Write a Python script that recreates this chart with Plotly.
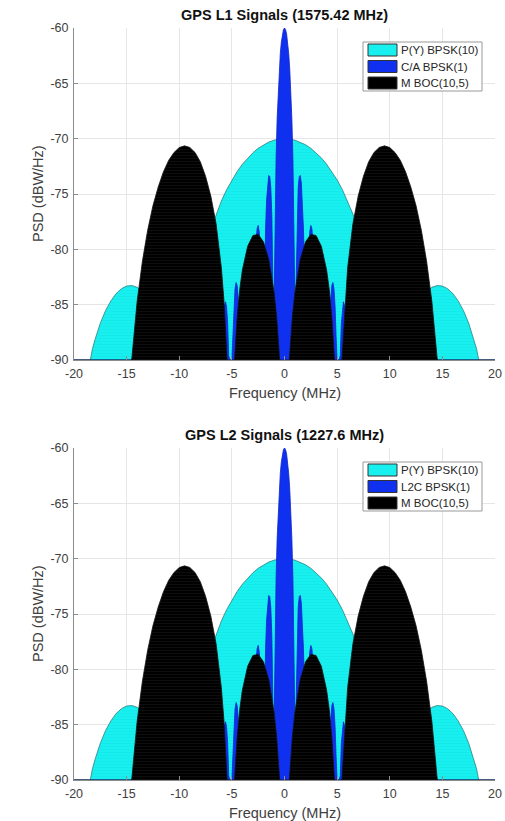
import plotly.graph_objects as go

# ---------------- data (positive-frequency half, spectra are symmetric) ----------------
# P(Y) BPSK(10)
PY_F = [0, 0.5, 1, 1.5, 2, 2.5, 3, 3.5, 4, 4.5, 5, 5.5, 6, 6.5, 7, 7.5, 8, 8.5, 9, 9.5,
        10, 11, 11.5, 12, 12.5, 13, 13.5, 14, 14.5, 15, 15.5, 16, 16.5, 17, 17.5, 18,
        18.25, 18.45, 20]
PY_PSD = [-70.0, -70.03, -70.14, -70.31, -70.55, -70.87, -71.27, -71.74, -72.31, -72.97,
          -73.73, -74.61, -75.64, -76.81, -78.19, -79.81, -81.79, -84.23, -87.47, -90,
          -90, -90, -89.36, -87.05, -85.53, -84.46, -83.83, -83.43, -83.27, -83.32,
          -83.56, -84.00, -84.66, -85.53, -86.68, -88.14, -89.0, -90, -90]

# C/A (L1) or L2C (L2) BPSK(1)
CA_F = [0, 0.1, 0.2, 0.3, 0.4, 0.5, 0.6, 0.7, 0.8, 0.9, 0.95, 1.0, 1.05, 1.1, 1.2, 1.3,
        1.4, 1.5, 1.6, 1.7, 1.8, 1.85, 1.9, 1.95, 2.0, 2.1, 2.15, 2.2, 2.3, 2.4, 2.5,
        2.6, 2.7, 2.8, 2.9, 3.0, 3.1, 3.2, 3.3, 3.4, 3.5, 3.6, 3.7, 3.8, 3.9, 4.0, 4.2,
        4.3, 4.4, 4.5, 4.6, 4.7, 4.8, 4.9, 5.0, 5.2, 5.3, 5.4, 5.5, 5.6, 5.7, 5.8, 5.9,
        6.0, 20]
CA_PSD = [-60.0, -60.14, -60.55, -61.27, -62.31, -63.73, -65.64, -68.19, -71.79, -77.47,
          -82.35, -90, -90, -83.17, -77.05, -74.46, -73.43, -73.32, -74.00, -75.53,
          -78.14, -80.03, -82.58, -86.28, -90, -90, -86.46, -83.42, -80.04, -78.41,
          -77.84, -78.12, -79.23, -81.36, -85.08, -90, -90, -88.0, -83.84, -81.79,
          -80.9, -80.89, -81.71, -83.49, -86.65, -90, -90, -86.91, -84.44, -83.26,
          -83.0, -83.58, -85.05, -87.8, -90, -90, -89.6, -86.69, -85.23, -84.74,
          -85.08, -86.3, -88.67, -90, -90]

# M-code BOC(10,5)
M_F = [0, 0.46, 0.5, 0.6, 0.75, 1, 1.5, 2, 2.5, 3, 3.5, 4, 4.25, 4.5, 4.75, 5.45, 5.5,
       5.6, 5.75, 6, 6.5, 7, 7.5, 8, 8.5, 9, 9.5, 10, 10.5, 11, 11.5, 12, 12.5, 13,
       13.5, 14, 14.5, 14.55, 20]
M_PSD = [-90, -90, -89.46, -87.92, -86.08, -83.80, -80.90, -79.32, -78.65, -78.75,
         -79.72, -81.86, -83.61, -86.16, -90, -90, -89.2, -87.12, -84.67, -81.66,
         -77.69, -75.19, -73.40, -72.08, -71.25, -70.79, -70.65, -70.80, -71.25,
         -71.95, -72.99, -74.37, -76.06, -78.27, -81.07, -84.70, -89.81, -90, -90]

TITLES = ["GPS L1 Signals (1575.42 MHz)", "GPS L2 Signals (1227.6 MHz)"]
NAMES = [["P(Y) BPSK(10)", "C/A BPSK(1)", "M BOC(10,5)"],
         ["P(Y) BPSK(10)", "L2C BPSK(1)", "M BOC(10,5)"]]
X_TICKS = [-20, -15, -10, -5, 0, 5, 10, 15, 20]
Y_TICKS = [-90, -85, -80, -75, -70, -65, -60]


def full(f, p):
    """Mirror the positive half to the full two-sided spectrum."""
    xs = [-v for v in reversed(f)] + list(f[1:])
    ys = list(reversed(p)) + list(p[1:])
    return xs, ys


FONT = "Liberation Sans, Arial, sans-serif"
W, H = 505, 821
X0, X1 = 74, 495             # target pixel positions in the window
PANELS = [(28, 360), (448, 780)]


def px(x):
    return x / W


def py(y):
    return (H - y) / H


styles = [
    dict(fill="#18f0f0", line="#2a8080", fg="#12dede"),
    dict(fill="#1030f0", line="#0c26c8", fg="#1030f0"),
    dict(fill="#000000", line="#111111", fg="#262626"),
]
series = [(PY_F, PY_PSD), (CA_F, CA_PSD), (M_F, M_PSD)]

fig = go.Figure()
for k in range(2):
    ax = "" if k == 0 else str(k + 1)
    for (f, p), st, name in zip(series, styles, NAMES[k]):
        xs, ys = full(f, p)
        fig.add_trace(go.Scatter(
            x=xs, y=ys, mode="lines", fill="toself", fillcolor=st["fill"],
            fillpattern=dict(shape="-", bgcolor=st["fill"], fgcolor=st["fg"],
                             size=3, solidity=0.25),
            line=dict(color=st["line"], width=0.8), name=name,
            xaxis="x" + ax, yaxis="y" + ax, showlegend=False, hoverinfo="skip"))

axis_common = dict(
    showgrid=True, gridcolor="#e6e6e6", gridwidth=1, zeroline=False,
    showline=True, linecolor="#8c8c8c", linewidth=1, ticks="inside", ticklen=4,
    tickcolor="#8c8c8c", tickfont=dict(family=FONT, size=12.5, color="#404040"),
    mirror=False, layer="above traces", automargin=False, ticklabelstandoff=2,
)

shapes = []
annotations = []
layout = dict(
    width=W, height=H, margin=dict(l=0, r=0, t=0, b=0),
    paper_bgcolor="white", plot_bgcolor="white", showlegend=False,
    font=dict(family=FONT, color="#262626"),
)

for k, (top, bot) in enumerate(PANELS):
    ax = "" if k == 0 else str(k + 1)
    layout["xaxis" + ax] = dict(axis_common, domain=[px(X0), px(X1)], range=[-20, 20],
                                tickvals=X_TICKS, ticktext=[str(v) for v in X_TICKS],
                                anchor="y" + ax)
    layout["yaxis" + ax] = dict(axis_common, domain=[py(bot), py(top)], range=[-90, -60],
                                tickvals=Y_TICKS, ticktext=[str(v) for v in Y_TICKS],
                                anchor="x" + ax)
    annotations += [
        dict(text="<b>" + TITLES[k] + "</b>", x=px((X0 + X1) / 2), y=py(top - 13),
             xanchor="center", yanchor="middle",
             xref="paper", yref="paper", showarrow=False,
             font=dict(family=FONT, size=14.5, color="#111111")),
        dict(text="Frequency (MHz)", x=px((X0 + X1) / 2), y=py(bot + 33),
             xanchor="center", yanchor="middle",
             xref="paper", yref="paper", showarrow=False,
             font=dict(family=FONT, size=14.5, color="#404040")),
        dict(text="PSD (dBW/Hz)", x=px(38), y=py((top + bot) / 2), textangle=-90,
             xanchor="center", yanchor="middle",
             xref="paper", yref="paper", showarrow=False,
             font=dict(family=FONT, size=14.5, color="#404040")),
    ]
    # legend box (drawn as layout shapes + text)
    off = top - 28
    shapes.append(dict(type="rect", xref="paper", yref="paper",
                       x0=px(363), x1=px(482), y0=py(off + 91), y1=py(off + 42),
                       fillcolor="white", line=dict(color="#999999", width=1)))
    for i, (st, name) in enumerate(zip(styles, NAMES[k])):
        cy = off + 50 + 16.5 * i
        shapes.append(dict(type="rect", xref="paper", yref="paper",
                           x0=px(368), x1=px(397), y0=py(cy + 6), y1=py(cy - 6),
                           fillcolor=st["fill"], line=dict(color="#333333", width=1)))
        annotations.append(dict(text=name, x=px(399), y=py(cy), xanchor="left",
                                yanchor="middle", xref="paper", yref="paper",
                                showarrow=False,
                                font=dict(family=FONT, size=11.5, color="#262626")))

layout["shapes"] = shapes
layout["annotations"] = annotations
fig.update_layout(**layout)
fig.write_html("out.html",
               config={"displayModeBar": False, "staticPlot": True},
               post_script="document.body.style.margin='0';"
                           "document.body.style.overflow='hidden';")
